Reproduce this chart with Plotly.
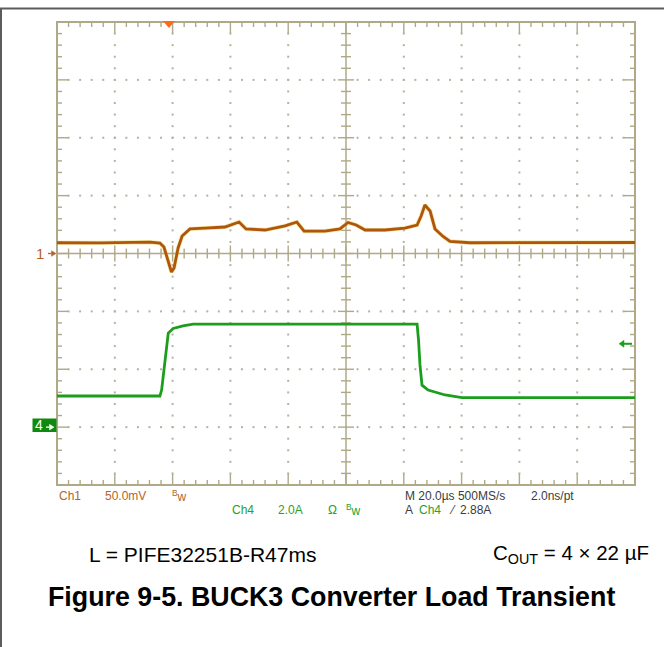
import plotly.graph_objects as go

# ---- Captured waveforms -------------------------------------------------
# Ch1: output voltage (AC coupled), time in µs, value in mV
ch1_t = [0.0, 14.9, 32.2, 35.6, 37.0, 38.4, 39.6, 40.5, 41.9, 43.3, 46.0, 51.2,
         58.1, 63.0, 65.4, 72.0, 78.9, 83.0, 85.5, 92.7, 97.9, 100.7, 103.5,
         106.6, 113.5, 120.4, 124.6, 126.0, 127.3, 129.1, 130.8, 133.6, 136.0,
         142.9, 163.7, 200.0]
ch1_mv = [9.3, 9.1, 9.9, 9.0, 5.6, -7.3, -16.0, -12.5, 4.8, 15.1, 21.2, 22.0,
          22.9, 27.2, 21.2, 20.3, 23.8, 27.2, 19.4, 19.4, 21.2, 26.8, 24.6,
          20.3, 20.3, 22.0, 24.6, 32.4, 41.9, 36.7, 21.2, 14.7, 10.4,
          9.3, 9.5, 9.5]

# Ch4: load current, time in µs, value in A
ch4_t = [0.0, 35.6, 36.2, 37.4, 38.5, 40.2, 43.6, 47.1, 84.1, 124.6, 125.1,
         125.6, 126.3, 128.4, 134.3, 140.1, 200.0]
ch4_a = [1.075, 1.075, 1.28, 2.32, 3.25, 3.41, 3.50, 3.56, 3.56, 3.56, 3.01,
         2.15, 1.45, 1.28, 1.11, 1.02, 1.02]

TRIG_T_US = 38.75      # trigger position on the time axis
TRIG_LEVEL_A = 2.88    # Ch4 trigger level

# Scope settings (per division)
US_PER_DIV = 20.0
MV_PER_DIV = 50.0
A_PER_DIV = 2.0
N_XDIV, N_YDIV = 10, 8

# ---- Page geometry (pixels) ---------------------------------------------
W, H = 664, 647
PL, PR, PT, PB = 57, 635, 22, 485
PW, PH = PR - PL, PB - PT

X_RANGE = [0, N_XDIV * US_PER_DIV]
Y1_RANGE = [-N_YDIV / 2 * MV_PER_DIV, N_YDIV / 2 * MV_PER_DIV]
Y2_RANGE = [-1 * A_PER_DIV, (N_YDIV - 1) * A_PER_DIV]

US_PER_PX = (X_RANGE[1] - X_RANGE[0]) / PW
MV_PER_PX = (Y1_RANGE[1] - Y1_RANGE[0]) / PH
A_PER_PX = (Y2_RANGE[1] - Y2_RANGE[0]) / PH

GRAT = "#b0a987"
DOT = "#b5b2a2"
CH1_COL = "#b0560c"
CH1_TXT = "#b4642a"
CH4_COL = "#1c9e1c"
CH4_TXT = "#2aa02a"
FONT = "Liberation Sans"


def px_x(px):
    return (px - PL) / PW


def px_y(py):
    return (PB - py) / PH


fig = go.Figure()

# ---- Graticule: dotted minor grid -----------------------------------------
dx, dy = [], []
for i in range(1, N_XDIV):
    if i == N_XDIV // 2:
        continue
    x = i * US_PER_DIV
    for k in range(1, N_YDIV * 5):
        dx.append(x)
        dy.append(Y1_RANGE[0] + k * MV_PER_DIV / 5)
for j in range(1, N_YDIV):
    if j == N_YDIV // 2:
        continue
    y = Y1_RANGE[0] + j * MV_PER_DIV
    for k in range(1, N_XDIV * 5):
        dx.append(k * US_PER_DIV / 5)
        dy.append(y)
fig.add_trace(go.Scatter(x=dx, y=dy, mode="markers", hoverinfo="skip",
                         marker=dict(symbol="square", size=2, color=DOT),
                         showlegend=False))

# ---- Graticule: tick marks on the border and centre cross -----------------
tx, ty = [], []
MINOR, MAJOR, CMINOR, CMAJOR = 5, 11, 5, 8
x_mid = X_RANGE[1] / 2
for k in range(1, N_XDIV * 5):
    x = k * US_PER_DIV / 5
    major = k % 5 == 0
    ln = (MAJOR if major else MINOR) * MV_PER_PX
    # top and bottom edges
    tx += [x, x, None, x, x, None]
    ty += [Y1_RANGE[1], Y1_RANGE[1] - ln, None, Y1_RANGE[0], Y1_RANGE[0] + ln, None]
    # centre horizontal line
    cl = (CMAJOR if major else CMINOR) * MV_PER_PX
    tx += [x, x, None]
    ty += [-cl, cl, None]
for k in range(1, N_YDIV * 5):
    y = Y1_RANGE[0] + k * MV_PER_DIV / 5
    major = k % 5 == 0
    ln = (MAJOR if major else MINOR) * US_PER_PX
    tx += [X_RANGE[0], X_RANGE[0] + ln, None, X_RANGE[1], X_RANGE[1] - ln, None]
    ty += [y, y, None, y, y, None]
    cl = (CMAJOR if major else CMINOR) * US_PER_PX
    tx += [x_mid - cl, x_mid + cl, None]
    ty += [y, y, None]
fig.add_trace(go.Scatter(x=tx, y=ty, mode="lines", hoverinfo="skip",
                         line=dict(color=GRAT, width=1.4), showlegend=False))

# ---- Waveforms ------------------------------------------------------------
fig.add_trace(go.Scatter(x=ch1_t, y=ch1_mv, mode="lines", hoverinfo="skip",
                         line=dict(color="#e0c21a", width=4.2), opacity=0.4,
                         showlegend=False))
fig.add_trace(go.Scatter(x=ch1_t, y=ch1_mv, mode="lines", name="Ch1",
                         line=dict(color=CH1_COL, width=2.8), showlegend=False))
fig.add_trace(go.Scatter(x=ch4_t, y=ch4_a, mode="lines", name="Ch4", yaxis="y2",
                         line=dict(color=CH4_COL, width=2.8), showlegend=False))

shapes = [
    # graticule border
    dict(type="rect", xref="paper", yref="paper", x0=0, x1=1, y0=0, y1=1,
         line=dict(color=GRAT, width=2), layer="below"),
    # centre cross
    dict(type="line", xref="x", yref="paper", x0=x_mid, x1=x_mid, y0=0, y1=1,
         line=dict(color=GRAT, width=1.5), layer="below"),
    dict(type="line", xref="paper", yref="y", x0=0, x1=1, y0=0, y1=0,
         line=dict(color=GRAT, width=1.5), layer="below"),
    # page frame
    dict(type="line", xref="paper", yref="paper", x0=px_x(0), x1=px_x(W),
         y0=px_y(8.5), y1=px_y(8.5), line=dict(color="#5c5c5c", width=2)),
    dict(type="line", xref="paper", yref="paper", x0=px_x(1), x1=px_x(1),
         y0=px_y(8), y1=px_y(H), line=dict(color="#5c5c5c", width=2)),
    # trigger position marker
    dict(type="path", xref="x", yref="paper",
         path="M {a},{t} L {b},{t} L {c},{m} Z".format(
             a=TRIG_T_US - 6 * US_PER_PX, b=TRIG_T_US + 6 * US_PER_PX,
             c=TRIG_T_US, t=px_y(21), m=px_y(28)),
         fillcolor="#ff6a1a", line=dict(color="#ff6a1a", width=0)),
    # Ch4 ground marker box
    dict(type="rect", xref="paper", yref="paper", x0=px_x(32.5), x1=px_x(56.5),
         y0=px_y(432), y1=px_y(418.5), fillcolor="#0e8a0e",
         line=dict(width=0)),
]


def arrow(x_tail, x_head, yref, yval, per_px, color, width=1.3, head=4.5, half=2.8):
    """Horizontal arrow; x in page pixels, y in the given axis units."""
    sgn = 1 if x_head > x_tail else -1
    x_base = x_head - sgn * head
    shapes.append(dict(type="line", xref="paper", yref=yref,
                       x0=px_x(x_tail), x1=px_x(x_base), y0=yval, y1=yval,
                       line=dict(color=color, width=width)))
    shapes.append(dict(type="path", xref="paper", yref=yref,
                       path="M {h},{y} L {b},{u} L {b},{d} Z".format(
                           h=px_x(x_head), b=px_x(x_base), y=yval,
                           u=yval + half * per_px, d=yval - half * per_px),
                       fillcolor=color, line=dict(color=color, width=0.5)))


# channel ground markers and trigger level marker
arrow(48, 56, "y", 0, MV_PER_PX, CH1_TXT)
arrow(46, 54, "y2", 0, A_PER_PX, "white")
arrow(632, 619, "y2", TRIG_LEVEL_A, A_PER_PX, CH4_COL, width=2, head=5, half=3.5)

ann = []


def label(text, x, y, color, size=12, xanchor="left", **kw):
    ann.append(dict(text=text, x=px_x(x), y=px_y(y), xref="paper", yref="paper",
                    xanchor=xanchor, yanchor="middle", showarrow=False,
                    font=dict(family=FONT, size=size, color=color), **kw))


ann.append(dict(text="1", x=px_x(46), y=0, xref="paper", yref="y",
                xanchor="right", yanchor="middle", showarrow=False,
                font=dict(family=FONT, size=15, color=CH1_TXT)))
ann.append(dict(text="4", x=px_x(45), y=0, xref="paper", yref="y2",
                xanchor="right", yanchor="middle", showarrow=False,
                yshift=2,
                font=dict(family=FONT, size=14, color="white")))

# scope readout
label("Ch1", 57, 496, CH1_TXT)
label("50.0mV", 103, 496, CH1_TXT)
label("<sup>B</sup>w", 170, 496, CH1_TXT)
label("Ch4", 230, 510, CH4_TXT)
label("2.0A", 276, 510, CH4_TXT)
label("Ω", 326, 510, CH4_TXT)
label("<sup>B</sup>w", 344, 510, CH4_TXT)
label("M 20.0µs 500MS/s", 403, 496, "#3c3c3c")
label("2.0ns/pt", 529, 496, "#3c3c3c")
label("A", 403, 510, "#3c3c3c")
label("Ch4", 417, 510, CH4_TXT)
label("⁄", 447, 510, "#3c3c3c")
label("2.88A", 458, 510, "#3c3c3c")

# captions
label("L = PIFE32251B-R47ms", 87, 554, "#000000", size=21)
label("C<sub>OUT</sub> = 4 × 22 µF", 651, 554, "#000000", size=20.5, xanchor="right")
label("<b>Figure 9-5. BUCK3 Converter Load Transient</b>", 331, 597, "#000000",
      size=26.8, xanchor="center")

fig.update_layout(
    width=W, height=H, autosize=False,
    margin=dict(l=PL, r=W - PR, t=PT, b=H - PB, pad=0),
    paper_bgcolor="white", plot_bgcolor="white",
    xaxis=dict(range=X_RANGE, visible=False, fixedrange=True),
    yaxis=dict(range=Y1_RANGE, visible=False, fixedrange=True),
    yaxis2=dict(range=Y2_RANGE, visible=False, overlaying="y", fixedrange=True),
    shapes=shapes, annotations=ann, showlegend=False,
)

fig.write_html("out.html")
